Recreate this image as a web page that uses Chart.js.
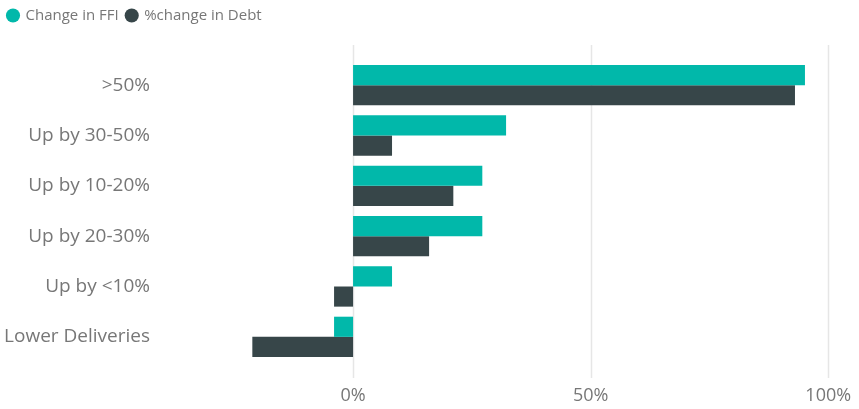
<!DOCTYPE html>
<html>
<head>
<meta charset="utf-8">
<script src="https://cdn.jsdelivr.net/npm/chart.js@4"></script>
<style>
  html, body { margin: 0; padding: 0; background: #ffffff; }
  #wrap { width: 859px; height: 409px; }
</style>
</head>
<body>
<div id="wrap"><canvas id="deliveryChart"></canvas></div>
<script>
// 類別與數據
const categories = ['>50%', 'Up by 30-50%', 'Up by 10-20%', 'Up by 20-30%', 'Up by <10%', 'Lower Deliveries'];
const ffiChange = [95.1, 32.2, 27.2, 27.2, 8.2, -4];
const debtChange = [93.0, 8.2, 21.1, 16.0, -4, -21.2];
const xTicks = [0, 50, 100];

// 顏色配置
const palette = {
    teal: '#01B8AA',
    dark: '#374649',
    text: '#777777',
    grid: '#e6e6e6'
};

// 延伸的垂直格線
const gridPlugin = {
    id: 'longGrid',
    beforeDatasetsDraw(chart) {
        const ctx = chart.ctx;
        const x = chart.scales.x;
        ctx.save();
        ctx.strokeStyle = palette.grid;
        ctx.lineWidth = 1.5;
        xTicks.forEach(v => {
            const px = Math.round(x.getPixelForValue(v)) + 0.5;
            ctx.beginPath();
            ctx.moveTo(px, 45);
            ctx.lineTo(px, 378);
            ctx.stroke();
        });
        ctx.restore();
    }
};

// 固定圖例高度
const legendHeight = {
    id: 'legendHeight',
    beforeInit(chart) {
        const fit = chart.legend.fit;
        chart.legend.fit = function () {
            fit.bind(chart.legend)();
            this.height = 60;
        };
    }
};

new Chart(document.getElementById('deliveryChart').getContext('2d'), {
    type: 'bar',
    data: {
        labels: categories,
        datasets: [
            {
                label: 'Change in FFI',
                data: ffiChange,
                backgroundColor: palette.teal,
                categoryPercentage: 0.8,
                barPercentage: 1.0
            },
            {
                label: '%change in Debt',
                data: debtChange,
                backgroundColor: palette.dark,
                categoryPercentage: 0.8,
                barPercentage: 1.0
            }
        ]
    },
    options: {
        indexAxis: 'y',
        responsive: true,
        maintainAspectRatio: false,
        animation: false,
        layout: { padding: { left: 0, right: 7, top: 0, bottom: 0 } },
        scales: {
            x: {
                min: -40,
                max: 105,
                grid: { display: false, drawTicks: false },
                border: { display: false },
                afterBuildTicks(scale) {
                    scale.ticks = xTicks.map(v => ({ value: v }));
                },
                afterFit(scale) {
                    scale.height = 47;
                    scale.paddingLeft = 0;
                    scale.paddingRight = 0;
                },
                ticks: {
                    padding: 23,
                    color: palette.text,
                    font: { family: 'Open Sans', size: 18 },
                    callback: v => v + '%'
                }
            },
            y: {
                grid: { display: false, drawTicks: false },
                border: { display: false },
                afterFit(scale) { scale.width = 163; },
                ticks: {
                    padding: 13,
                    color: palette.text,
                    font: { family: 'Open Sans', size: 19 }
                }
            }
        },
        plugins: {
            tooltip: { enabled: false },
            legend: {
                position: 'top',
                align: 'start',
                labels: {
                    usePointStyle: true,
                    pointStyle: 'circle',
                    boxWidth: 10,
                    boxHeight: 10,
                    padding: 8,
                    color: palette.text,
                    font: { family: 'Open Sans', size: 15 }
                }
            }
        }
    },
    plugins: [gridPlugin, legendHeight]
});
</script>
</body>
</html>
